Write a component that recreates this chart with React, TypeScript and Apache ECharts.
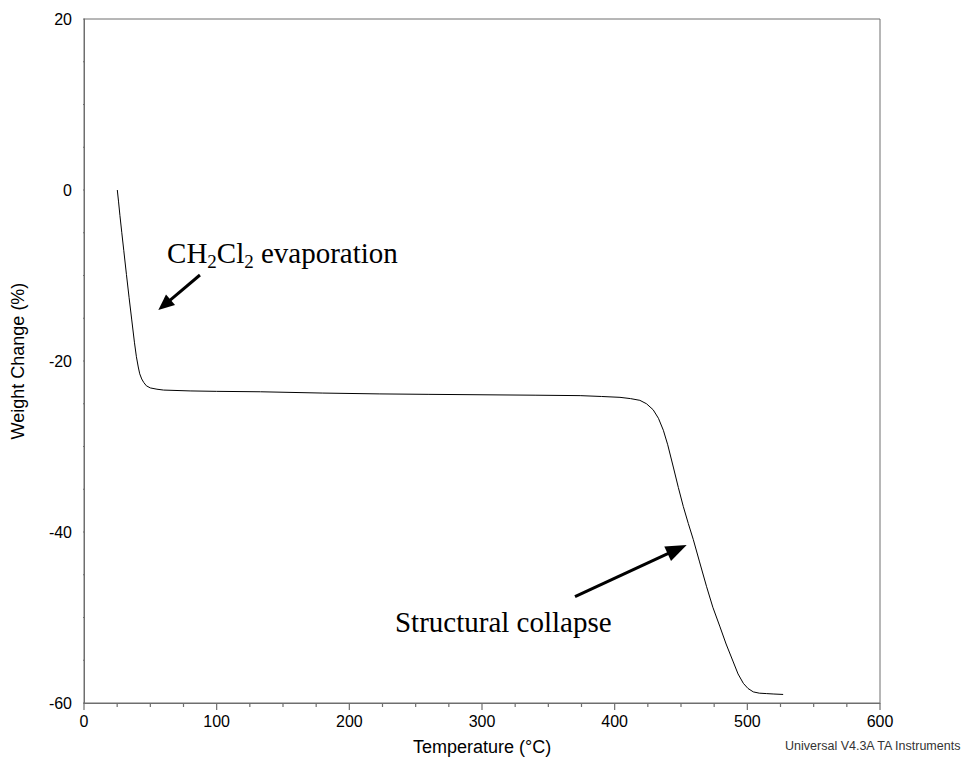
import React, { useEffect, useRef } from "react";
import * as echarts from "echarts";

// TGA trace: temperature (°C) and weight change (%)
const temperature: number[] = [
  25.1, 26.0, 27.1, 28.5, 30.0, 32.0, 34.0, 36.0, 38.0, 39.5, 40.9, 42.0, 43.5, 45.0, 47.0,
  50.0, 55.0, 60.0, 80.0, 100, 133, 180, 223, 260, 300, 340, 374, 390, 404, 412, 419, 424,
  429, 433, 436.7, 440, 444.2, 448, 451.7, 455.5, 459.3, 464, 469.3, 474, 479.4, 484, 489.4,
  493, 497, 500.5, 504.5, 509, 514.6, 520, 527,
];
const weightChange: number[] = [
  0, -1.3, -3.0, -5.0, -7.1, -9.9, -12.6, -15.2, -17.8, -19.5, -20.7, -21.5, -22.1, -22.5, -22.9,
  -23.15, -23.3, -23.4, -23.5, -23.55, -23.6, -23.75, -23.85, -23.9, -23.95, -24.0, -24.05, -24.15,
  -24.25, -24.4, -24.6, -25.0, -25.7, -26.7, -28.1, -29.8, -32.4, -34.8, -37.0, -39.0, -40.9,
  -43.5, -46.4, -48.8, -51.1, -53.1, -55.2, -56.6, -57.7, -58.3, -58.7, -58.85, -58.9, -58.95, -59.0,
];

const xRange = { min: 0, max: 600, interval: 100 };
const yRange = { min: -60, max: 20, interval: 20 };

// Tick marks along each axis
const xMajorTicks = [0, 100, 200, 300, 400, 500, 600];
const xMinorTicks = [25, 50, 75, 125, 150, 175, 225, 250, 275, 325, 350, 375, 425, 450, 475, 525, 550, 575];
const yMajorTicks = [-60, -40, -20, 0, 20];
const yMinorTicks = [-55, -50, -45, -35, -30, -25, -15, -10, -5, 5, 10, 15];

// Annotation anchors in data coordinates: [temperature, weight]
const evapLabelAnchor: [number, number] = [62.6, -8.54];
const evapArrowTail: [number, number] = [87.4, -9.94];
const evapArrowTip: [number, number] = [56.0, -14.04];
const collapseLabelAnchor: [number, number] = [234.4, -51.7];
const collapseArrowTail: [number, number] = [370.1, -47.57];
const collapseArrowTip: [number, number] = [454.3, -41.52];

const AXIS_GRAY = "#6e6e6e";
const SANS = "'Liberation Sans', Arial, sans-serif";
const SERIF = "'Liberation Serif', 'Times New Roman', serif";
const MAJOR_LEN = 7;
const MINOR_LEN = 4;

function arrow(tail: number[], tip: number[], headLen: number, headHalf: number, width: number) {
  const dx = tip[0] - tail[0];
  const dy = tip[1] - tail[1];
  const len = Math.hypot(dx, dy);
  const ux = dx / len;
  const uy = dy / len;
  const bx = tip[0] - ux * headLen;
  const by = tip[1] - uy * headLen;
  const px = -uy;
  const py = ux;
  return [
    {
      type: "line",
      shape: { x1: tail[0], y1: tail[1], x2: bx + ux * 2, y2: by + uy * 2 },
      style: { stroke: "#000", lineWidth: width },
      silent: true,
    },
    {
      type: "polygon",
      shape: {
        points: [
          [tip[0], tip[1]],
          [bx + px * headHalf, by + py * headHalf],
          [bx - px * headHalf, by - py * headHalf],
        ],
      },
      style: { fill: "#000" },
      silent: true,
    },
  ];
}

export default function App() {
  const ref = useRef<HTMLDivElement>(null);

  useEffect(() => {
    document.body.style.margin = "0";
    if (!ref.current) return;
    const chart = echarts.init(ref.current, undefined, { renderer: "svg" });

    const data = temperature.map((t, i) => [t, weightChange[i]]);

    const baseSeries = {
      type: "line",
      data,
      showSymbol: false,
      symbol: "none",
      lineStyle: { color: "#000", width: 1 },
      silent: true,
    };

    chart.setOption({
      animation: false,
      backgroundColor: "#fff",
      grid: {
        left: 84,
        right: 84,
        top: 19,
        bottom: 57,
        show: true,
        borderColor: AXIS_GRAY,
        borderWidth: 1,
        backgroundColor: "transparent",
      },
      xAxis: {
        type: "value",
        min: xRange.min,
        max: xRange.max,
        interval: xRange.interval,
        name: "Temperature (°C)",
        nameLocation: "middle",
        nameGap: 35,
        nameTextStyle: { color: "#000", fontSize: 18, fontFamily: SANS },
        axisLine: { show: true, onZero: false, lineStyle: { color: AXIS_GRAY, width: 1 } },
        axisTick: { show: false },
        splitLine: { show: false },
        axisLabel: { color: "#000", fontSize: 16, fontFamily: SANS, margin: 10 },
      },
      yAxis: {
        type: "value",
        min: yRange.min,
        max: yRange.max,
        interval: yRange.interval,
        name: "Weight Change (%)",
        nameLocation: "middle",
        nameGap: 57,
        nameTextStyle: { color: "#000", fontSize: 18, fontFamily: SANS },
        axisLine: { show: true, onZero: false, lineStyle: { color: AXIS_GRAY, width: 1 } },
        axisTick: { show: false },
        splitLine: { show: false },
        axisLabel: { color: "#000", fontSize: 16, fontFamily: SANS, margin: 12 },
      },
      series: [baseSeries],
    });

    const toPx = (p: [number, number]) => chart.convertToPixel({ gridIndex: 0 }, p) as number[];
    const fromPx = (p: [number, number]) => chart.convertFromPixel({ gridIndex: 0 }, p) as number[];

    // Tick length in data units, derived from the axes' own pixel scale
    const origin = toPx([xRange.min, yRange.min]);
    const yPerPx = yRange.min - fromPx([origin[0], origin[1] + 1])[1];
    const xPerPx = xRange.min - fromPx([origin[0] - 1, origin[1]])[0];

    // Tick segments as an unclipped line series, broken apart by gaps
    const tickSegments: (number[] | string)[] = [];
    xMajorTicks.forEach((v) => tickSegments.push([v, yRange.min], [v, yRange.min - MAJOR_LEN * yPerPx], "-"));
    xMinorTicks.forEach((v) => tickSegments.push([v, yRange.min], [v, yRange.min - MINOR_LEN * yPerPx], "-"));
    yMajorTicks.forEach((v) => tickSegments.push([xRange.min, v], [xRange.min - MAJOR_LEN * xPerPx, v], "-"));
    yMinorTicks.forEach((v) => tickSegments.push([xRange.min, v], [xRange.min - MINOR_LEN * xPerPx, v], "-"));

    const serifRich = {
      a: { fontSize: 29, fontFamily: SERIF, color: "#000", lineHeight: 36 },
      s: { fontSize: 19, fontFamily: SERIF, color: "#000", lineHeight: 21, verticalAlign: "bottom" },
    };
    const BASELINE = 27.8;

    const evapPos = toPx(evapLabelAnchor);
    const collapsePos = toPx(collapseLabelAnchor);

    chart.setOption({
      series: [
        baseSeries,
        {
          type: "line",
          data: tickSegments,
          showSymbol: false,
          symbol: "none",
          connectNulls: false,
          clip: false,
          silent: true,
          z: 5,
          lineStyle: { color: AXIS_GRAY, width: 1.2 },
        },
      ],
      graphic: [
        {
          type: "text",
          x: evapPos[0],
          y: evapPos[1] - BASELINE,
          silent: true,
          style: {
            text: "{a|CH}{s|2}{a|Cl}{s|2}{a| evaporation}",
            rich: serifRich,
            align: "left",
            verticalAlign: "top",
          },
        },
        ...arrow(toPx(evapArrowTail), toPx(evapArrowTip), 16, 7, 3),
        {
          type: "text",
          x: collapsePos[0],
          y: collapsePos[1] - BASELINE,
          silent: true,
          style: {
            text: "{a|Structural collapse}",
            rich: serifRich,
            align: "left",
            verticalAlign: "top",
          },
        },
        ...arrow(toPx(collapseArrowTail), toPx(collapseArrowTip), 21, 8, 3),
        {
          type: "text",
          right: 2,
          bottom: 9,
          silent: true,
          style: {
            text: "Universal V4.3A TA Instruments",
            fontSize: 12.5,
            fontFamily: SANS,
            fill: "#333",
          },
        },
      ],
    });

    return () => chart.dispose();
  }, []);

  return <div ref={ref} style={{ width: 964, height: 761 }} />;
}
